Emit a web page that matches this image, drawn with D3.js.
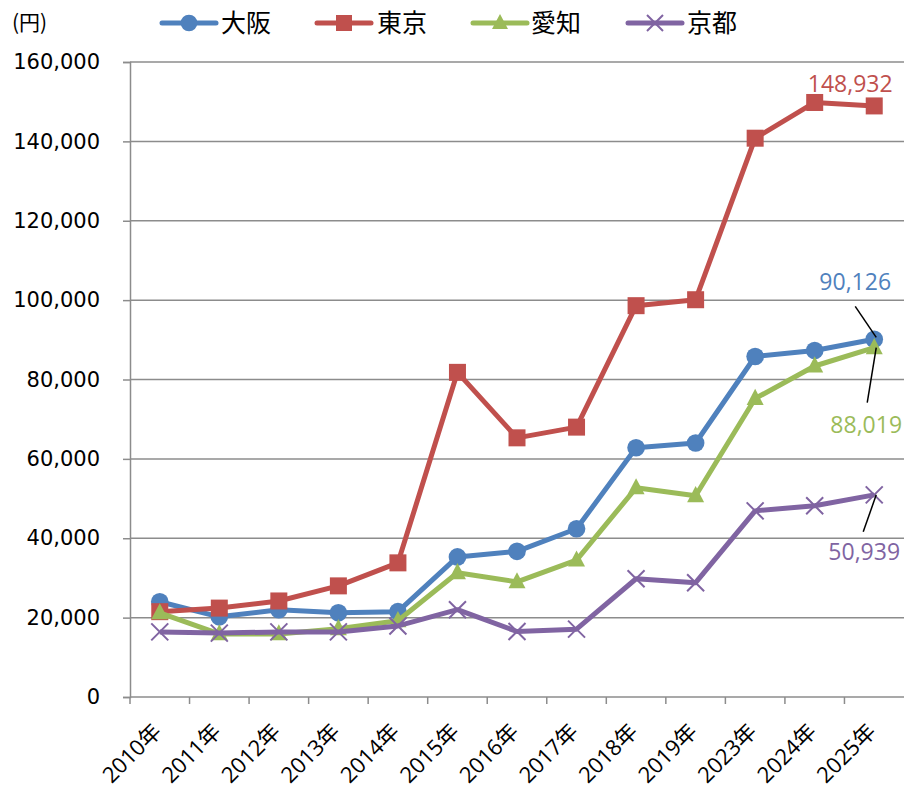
<!DOCTYPE html>
<html>
<head>
<meta charset="utf-8">
<script src="https://cdn.jsdelivr.net/npm/d3@7/dist/d3.min.js"></script>
<style>
  html, body { margin: 0; padding: 0; background: #fff; }
  svg { display: block; }
</style>
</head>
<body>
<svg id="chart" width="904" height="791"></svg>
<script>
// ---- data ----
const categories = ["2010年","2011年","2012年","2013年","2014年","2015年","2016年","2017年","2018年","2019年","2023年","2024年","2025年"];
const osaka = [24000, 20200, 22000, 21200, 21500, 35300, 36700, 42400, 62800, 64000, 85800, 87300, 90126];
const tokyo = [21500, 22400, 24200, 28000, 33800, 81800, 65300, 68000, 98600, 100100, 140800, 149800, 148932];
const aichi = [21200, 15900, 15900, 17200, 19200, 31300, 29000, 34500, 52700, 50700, 75200, 83400, 88019];
const kyoto = [16400, 16100, 16400, 16400, 17900, 22000, 16500, 17100, 29800, 28800, 46900, 48200, 50939];
const seriesNames = ["大阪", "東京", "愛知", "京都"];
const yTicks = [0, 20000, 40000, 60000, 80000, 100000, 120000, 140000, 160000];
const unitLabel = "(円)";

(function () {
const seriesData = [osaka, tokyo, aichi, kyoto];
const colors = ["#4F81BD", "#C0504D", "#9BBB59", "#8064A2"];
const markers = ["circle", "square", "triangle", "cross"];
// label offsets relative to last point
const lastLabel = [
  {dx: -19, dy: -49, line: [2, -2, -19, -33]},
  {dx: -24, dy: -14, line: null},
  {dx: -8, dy: 85, line: [2, 0, -7, 55]},
  {dx: -10, dy: 65, line: [2, 0, -11, 37]}
];

const svg = d3.select("#chart");
const pLeft = 130, pRight = 904, pTop = 62, pBottom = 697;

const x = d3.scaleBand().domain(categories).range([pLeft, pRight]);
const y = d3.scaleLinear().domain([0, 160000]).range([pBottom, pTop]);
const cx = d => x(d) + x.bandwidth() / 2;

const gridColor = "#8c8c8c";

// gridlines
svg.append("g").selectAll("line").data(yTicks.filter(v => v > 0)).join("line")
  .attr("x1", pLeft).attr("x2", pRight)
  .attr("y1", d => y(d)).attr("y2", d => y(d))
  .attr("stroke", gridColor).attr("stroke-width", 1.5);

// y axis
const yAxis = d3.axisLeft(y).tickValues(yTicks).tickSize(7).tickPadding(23)
  .tickFormat(d3.format(","));
const gy = svg.append("g").attr("transform", `translate(${pLeft},0)`).call(yAxis);
gy.select(".domain").attr("stroke", gridColor).attr("stroke-width", 1.5);
gy.selectAll(".tick line").attr("stroke", gridColor).attr("stroke-width", 1.5);
gy.selectAll(".tick text")
  .attr("font-family", "'DejaVu Sans', sans-serif")
  .attr("font-size", 21).attr("fill", "#000");

// x axis line
svg.append("line").attr("x1", pLeft).attr("x2", pRight)
  .attr("y1", pBottom).attr("y2", pBottom)
  .attr("stroke", gridColor).attr("stroke-width", 1.5);
// x ticks at band boundaries
svg.append("g").selectAll("line").data(categories).join("line")
  .attr("x1", d => x(d)).attr("x2", d => x(d))
  .attr("y1", pBottom).attr("y2", pBottom + 7)
  .attr("stroke", gridColor).attr("stroke-width", 1.5);
// x labels
svg.append("g").selectAll("text").data(categories).join("text")
  .attr("transform", d => `translate(${cx(d) + 3},${pBottom + 36}) rotate(-45)`)
  .attr("text-anchor", "end")
  .attr("font-family", "'Open Sans', 'Noto Sans CJK JP', sans-serif")
  .attr("font-size", 22).attr("fill", "#000")
  .text(d => d);

// unit label
svg.append("text").attr("x", 12).attr("y", 30)
  .attr("font-family", "'Noto Sans CJK JP', sans-serif")
  .attr("font-size", 21).attr("fill", "#000").text(unitLabel);

function drawMarker(g, type, color, px, py, s) {
  if (type === "circle") {
    g.append("circle").attr("cx", px).attr("cy", py).attr("r", s * 0.52).attr("fill", color);
  } else if (type === "square") {
    g.append("rect").attr("x", px - s / 2).attr("y", py - s / 2).attr("width", s).attr("height", s).attr("fill", color);
  } else if (type === "triangle") {
    const h = s * 0.95;
    g.append("path").attr("d", `M${px},${py - h * 0.6}L${px + s / 2},${py + h * 0.4}L${px - s / 2},${py + h * 0.4}Z`).attr("fill", color);
  } else {
    const r = s / 2;
    g.append("path").attr("d", `M${px - r},${py - r}L${px + r},${py + r}M${px - r},${py + r}L${px + r},${py - r}`)
      .attr("stroke", color).attr("stroke-width", 2).attr("fill", "none");
  }
}

const line = d3.line().x((d, i) => cx(categories[i])).y(d => y(d));

seriesData.forEach((vals, si) => {
  const g = svg.append("g");
  g.append("path").attr("d", line(vals)).attr("fill", "none")
    .attr("stroke", colors[si]).attr("stroke-width", 5).attr("stroke-linejoin", "round");
  vals.forEach((v, i) => drawMarker(g, markers[si], colors[si], cx(categories[i]), y(v), 17));
});

// last-value labels
seriesData.forEach((vals, si) => {
  const lc = categories[categories.length - 1];
  const v = vals[vals.length - 1];
  const px = cx(lc), py = y(v);
  const L = lastLabel[si];
  if (L.line) {
    svg.append("line")
      .attr("x1", px + L.line[0]).attr("y1", py + L.line[1])
      .attr("x2", px + L.line[2]).attr("y2", py + L.line[3])
      .attr("stroke", "#000").attr("stroke-width", 1.5);
  }
  svg.append("text").attr("x", px + L.dx).attr("y", py + L.dy)
    .attr("text-anchor", "middle")
    .attr("font-family", "'Open Sans', sans-serif")
    .attr("font-size", 23).attr("fill", colors[si])
    .text(d3.format(",")(v));
});

// legend
const legendItems = [
  {x0: 162, tx: 221},
  {x0: 317, tx: 377},
  {x0: 473, tx: 531},
  {x0: 628, tx: 687}
];
const ly = 23;
legendItems.forEach((it, si) => {
  const g = svg.append("g");
  g.append("line").attr("x1", it.x0).attr("x2", it.x0 + 54).attr("y1", ly).attr("y2", ly)
    .attr("stroke", colors[si]).attr("stroke-width", 5).attr("stroke-linecap", "round");
  drawMarker(g, markers[si], colors[si], it.x0 + 27, ly, 16);
  g.append("text").attr("x", it.tx).attr("y", ly + 9)
    .attr("font-family", "'Noto Sans CJK JP', sans-serif")
    .attr("font-size", 25).attr("fill", "#000")
    .text(seriesNames[si]);
});
})();
</script>
</body>
</html>
